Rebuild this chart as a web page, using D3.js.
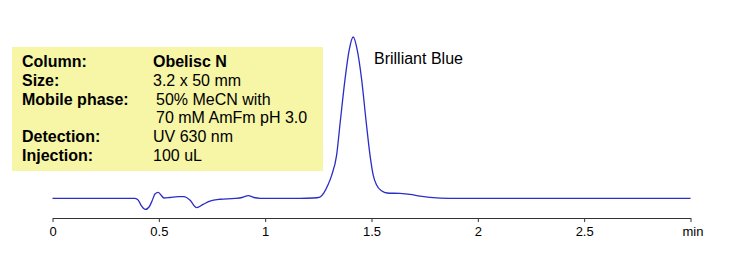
<!DOCTYPE html>
<html>
<head>
<meta charset="utf-8">
<script src="https://cdnjs.cloudflare.com/ajax/libs/d3/7.8.5/d3.min.js"></script>
<style>
    body { margin: 0; background: #fff; }
    svg { display: block; font-family: Arial, "Liberation Sans", sans-serif; }
</style>
</head>
<body>
<div id="chart"></div>
<script>
// retention time (min) and detector signal (relative, peak = 100)
var times = [0, 0.223, 0.388, 0.403, 0.416, 0.437, 0.454, 0.468, 0.482, 0.497,
    0.510, 0.524, 0.552, 0.590, 0.618, 0.646, 0.678, 0.708, 0.740, 0.788,
    0.858, 0.891, 0.921, 0.947, 0.976, 1.164, 1.225, 1.258, 1.276, 1.295,
    1.313, 1.336, 1.353, 1.375, 1.395, 1.414, 1.433, 1.454, 1.475, 1.493,
    1.508, 1.524, 1.549, 1.573, 1.634, 1.681, 1.728, 1.775, 1.869, 3.0];
var signal = [0, 0, 0, -1.1, -4.2, -6.9, -5.4, -1.7, 2.7, 3.7,
    2.0, 0.2, 0.5, 1.1, 1.0, -1.1, -5.8, -3.8, -1.7, -0.6,
    -0.1, 0.5, 1.7, 0.5, 0, 0, 0.2, 0.8, 3.3, 8.2,
    14.4, 26.8, 47.3, 73.3, 91.9, 100, 91.9, 73.3, 47.3, 26.8,
    14.4, 8.2, 4.5, 3.3, 3.0, 2.4, 1.4, 0.6, 0, 0];
var tickValues = [0, 0.5, 1, 1.5, 2, 2.5, 3];
var tickLabels = ["0", "0.5", "1", "1.5", "2", "2.5", "min"];

var infoLabels = ["Column:", "Size:", "Mobile phase:", "", "Detection:", "Injection:"];
var infoValues = ["Obelisc N", "3.2 x 50 mm", "50% MeCN with", "70 mM AmFm pH 3.0", "UV 630 nm", "100 uL"];
var peakName = "Brilliant Blue";

var width = 741;
var height = 266;
var svgElement;

function main() {
    svgElement = d3.select("#chart").append("svg")
        .attr("width", width)
        .attr("height", height);

    svgElement.append("rect")
        .attr("width", width).attr("height", height).attr("fill", "#fff");

    var x = d3.scaleLinear().domain([0, 3]).range([52.5, 690.5]);
    var y = d3.scaleLinear().domain([0, 100]).range([198.3, 37]);

    drawInfoBox();
    drawAxis(x);
    drawTrace(x, y);

    svgElement.append("text")
        .attr("x", 374).attr("y", 64)
        .attr("font-size", 16)
        .attr("fill", "#000")
        .text(peakName);
}

function drawInfoBox() {
    svgElement.append("rect")
        .attr("x", 12).attr("y", 47)
        .attr("width", 311).attr("height", 124)
        .attr("fill", "#f6f6a6");

    var rows = svgElement.append("g");
    infoLabels.forEach(function (label, i) {
        var by = 67 + i * 18.8;
        rows.append("text")
            .attr("x", 22).attr("y", by)
            .attr("font-size", 16).attr("font-weight", "bold")
            .text(label);
        rows.append("text")
            .attr("x", (i == 2 || i == 3) ? 156 : 153).attr("y", by)
            .attr("font-size", 16)
            .attr("font-weight", i == 0 ? "bold" : "normal")
            .text(infoValues[i]);
    });
}

function drawAxis(x) {
    var axis = d3.axisBottom(x)
        .tickValues(tickValues)
        .tickFormat(function (d, i) { return tickLabels[i]; })
        .tickSize(4)
        .tickSizeOuter(0)
        .tickPadding(5);

    var g = svgElement.append("g")
        .attr("transform", "translate(0,218)")
        .call(axis);
    g.select(".domain").attr("stroke", "#333");
    g.selectAll(".tick line").attr("stroke", "#333");
    g.selectAll(".tick text")
        .attr("font-size", 13)
        .attr("font-family", "Arial, 'Liberation Sans', sans-serif")
        .attr("fill", "#000");
    g.select(".tick:last-of-type text").attr("dx", 2);
}

function drawTrace(x, y) {
    var pts = times.map(function (t, i) { return [t, signal[i]]; });
    var line = d3.line()
        .x(function (d) { return x(d[0]); })
        .y(function (d) { return y(d[1]); })
        .curve(d3.curveMonotoneX);

    svgElement.append("path")
        .datum(pts)
        .attr("d", line)
        .attr("fill", "none")
        .attr("stroke", "#2c2cc8")
        .attr("stroke-width", 1.3);
}

main();
</script>
</body>
</html>
